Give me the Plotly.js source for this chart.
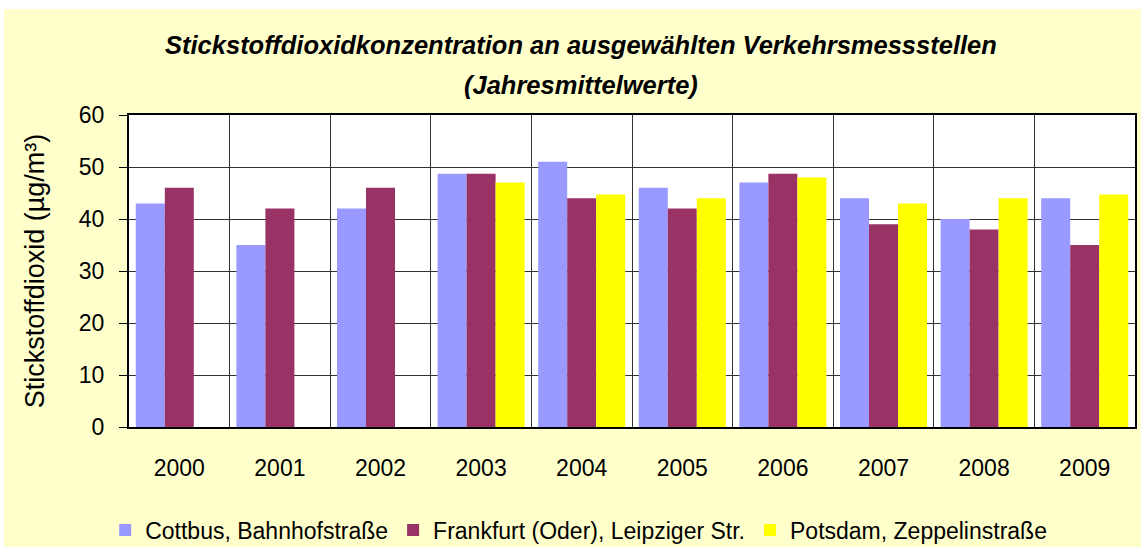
<!DOCTYPE html>
<html>
<head>
<meta charset="utf-8">
<script src="https://cdn.plot.ly/plotly-3.0.1.min.js"></script>
<style>
  html, body { margin: 0; padding: 0; background: #ffffff; }
  #chart { position: absolute; left: 4px; top: 9px; width: 1137px; height: 538px; }
</style>
</head>
<body>
<div id="chart"></div>
<script>
const years = ['2000','2001','2002','2003','2004','2005','2006','2007','2008','2009'];
const cottbus = [43, 35, 42, 48.7, 51, 46, 47, 44, 40, 44];
const frankfurt = [46, 42, 46, 48.7, 44, 42, 48.7, 39, 38, 35];
const potsdam = [null, null, null, 47, 44.7, 44, 48, 43, 44, 44.7];
const seriesNames = ['Cottbus, Bahnhofstraße', 'Frankfurt (Oder), Leipziger Str.', 'Potsdam, Zeppelinstraße'];
const titleLines = ['Stickstoffdioxidkonzentration an ausgewählten Verkehrsmessstellen', '(Jahresmittelwerte)'];
const yTitle = 'Stickstoffdioxid (µg/m³)';

const colors = ['#9999FF', '#993366', '#FFFF00'];
const font = 'Arial, "Liberation Sans", sans-serif';

const traces = [cottbus, frankfurt, potsdam].map((vals, i) => ({
  type: 'bar',
  x: years,
  y: vals,
  name: seriesNames[i],
  marker: { color: colors[i], line: { width: 0 } },
  hoverinfo: 'none'
}));

const layout = {
  width: 1137,
  height: 538,
  margin: { l: 125, r: 6, t: 106, b: 120, autoexpand: false },
  paper_bgcolor: '#FFFFCC',
  plot_bgcolor: '#FFFFFF',
  barmode: 'group',
  bargap: 0.135,
  bargroupgap: 0,
  font: { family: font, color: '#000000' },
  showlegend: true,
  legend: {
    orientation: 'h',
    x: 0.447, xanchor: 'center',
    y: -0.33, yanchor: 'middle',
    font: { size: 23, family: font, color: '#000' },
    bgcolor: 'rgba(0,0,0,0)',
    itemwidth: 30,
    traceorder: 'normal'
  },
  xaxis: {
    type: 'category',
    tickson: 'boundaries',
    showgrid: true,
    gridcolor: '#333333',
    gridwidth: 1,
    showline: true,
    linecolor: '#000000',
    linewidth: 2,
    mirror: true,
    ticks: '',
    tickfont: { size: 23, family: font, color: '#000' },
    ticklabelstandoff: 19,
    zeroline: false,
    automargin: false
  },
  yaxis: {
    range: [0, 60],
    dtick: 10,
    tick0: 0,
    showgrid: true,
    gridcolor: '#333333',
    gridwidth: 1,
    showline: true,
    linecolor: '#000000',
    linewidth: 2,
    mirror: true,
    ticks: 'outside',
    ticklen: 8,
    tickcolor: '#000',
    tickfont: { size: 23, family: font, color: '#000' },
    ticklabelstandoff: 10,
    zeroline: false,
    automargin: false,
    title: { text: yTitle, font: { size: 27, family: font, color: '#000' }, standoff: 26 }
  },
  annotations: [
    { text: '<b><i>' + titleLines[0] + '</i></b>', xref: 'paper', yref: 'paper', x: 0.449, y: 1 + (106 - 36) / 312, xanchor: 'center', yanchor: 'middle', showarrow: false, font: { size: 25.5, family: font, color: '#000' } },
    { text: '<b><i>' + titleLines[1] + '</i></b>', xref: 'paper', yref: 'paper', x: 0.449, y: 1 + (106 - 76) / 312, xanchor: 'center', yanchor: 'middle', showarrow: false, font: { size: 25.5, family: font, color: '#000' } }
  ]
};

Plotly.newPlot('chart', traces, layout, { staticPlot: true, displayModeBar: false });
</script>
</body>
</html>
